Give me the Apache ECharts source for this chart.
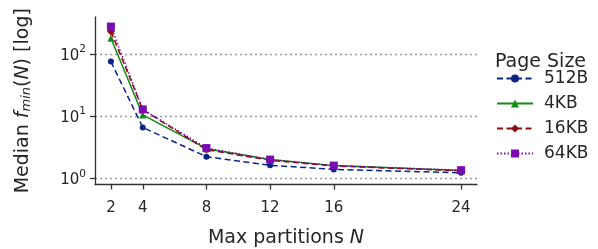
<!DOCTYPE html>
<html>
<head>
<meta charset="utf-8">
<script src="https://cdn.jsdelivr.net/npm/echarts@6/dist/echarts.min.js"></script>
<style>
  html, body { margin: 0; padding: 0; background: #fff; }
  #chart { width: 598px; height: 249px; }
</style>
</head>
<body>
<div id="chart"></div>
<script>
// values (log y axis)
const partitions = [2, 4, 8, 12, 16, 24]
const pageSizes = ['512B', '4KB', '16KB', '64KB']
const val512B = [76, 6.6, 2.23, 1.62, 1.39, 1.23]
const val4KB = [181, 10.5, 3.0, 2.0, 1.6, 1.34]
const val16KB = [232, 12.8, 2.9, 1.95, 1.58, 1.32]
const val64KB = [279, 12.9, 3.07, 2.0, 1.6, 1.35]
const yTicks = [1, 10, 100]

const colors = ['#0a2485', '#138a13', '#8e0c0c', '#7a0ab2']
const symbols = ['circle', 'triangle', 'diamond', 'rect']
const symbolSizes = [6, 7, 8, 8]
const dashes = [[6, 3.5], 'solid', [6, 3.5], [1.5, 2]]
const allValues = [val512B, val4KB, val16KB, val64KB]

const txt = '#262626'
const font = 'DejaVu Sans'

var myChart = echarts.init(document.getElementById('chart'), null, { renderer: 'canvas' })

const series = pageSizes.map((name, i) => ({
  name: name,
  type: 'line',
  data: partitions.map((x, j) => [x, allValues[i][j]]),
  symbol: symbols[i],
  symbolSize: symbolSizes[i],
  showSymbol: true,
  z: 2 + i,
  lineStyle: { color: colors[i], width: 1.5, type: dashes[i] },
  itemStyle: { color: colors[i] },
  emphasis: { disabled: true },
}))

var option = {
  animation: false,
  textStyle: { fontFamily: font },
  title: {
    text: 'Page Size',
    left: 495,
    top: 53,
    padding: 0,
    textStyle: { fontFamily: font, fontSize: 19, fontWeight: 'normal', color: txt },
  },
  legend: {
    orient: 'vertical',
    left: 496,
    top: 70,
    padding: 0,
    itemWidth: 36,
    itemHeight: 10,
    itemGap: 8,
    data: pageSizes,
    textStyle: { fontFamily: font, fontSize: 17, color: txt, lineHeight: 17, padding: [0, 0, 0, 6] },
  },
  grid: {
    left: 95,
    right: 121,
    top: 17,
    bottom: 64.5,
    containLabel: false,
    outerBoundsMode: 'none',
  },
  xAxis: {
    type: 'value',
    min: 1,
    max: 25,
    name: '{n|Max partitions }{i|N}',
    nameLocation: 'middle',
    nameGap: 44,
    nameTextStyle: {
      rich: {
        n: { fontFamily: font, fontSize: 19, color: txt },
        i: { fontFamily: font, fontSize: 19, color: txt, fontStyle: 'italic' },
      },
    },
    axisLine: { onZero: false, lineStyle: { color: '#333', width: 1.3 } },
    axisTick: { customValues: partitions, length: 5, lineStyle: { color: '#333', width: 1.3 } },
    axisLabel: {
      customValues: partitions,
      margin: 16,
      fontFamily: font,
      fontSize: 15,
      color: txt,
    },
    splitLine: { show: false },
  },
  yAxis: {
    type: 'log',
    logBase: 10,
    min: 0.794,
    max: 398,
    name: '{n|Median }{i|f}{s|min}{n|(}{i|N}{n|) [log]}',
    nameLocation: 'middle',
    nameRotate: 90,
    nameGap: 62,
    nameTextStyle: {
      rich: {
        n: { fontFamily: font, fontSize: 19, color: txt },
        i: { fontFamily: font, fontSize: 19, color: txt, fontStyle: 'italic' },
        s: { fontFamily: font, fontSize: 13, color: txt, fontStyle: 'italic', verticalAlign: 'bottom', lineHeight: 14, padding: [6, 0, 0, 0] },
      },
    },
    axisLine: { show: true, lineStyle: { color: '#333', width: 1.3 } },
    axisTick: { customValues: yTicks, length: 5, lineStyle: { color: '#333', width: 1.3 } },
    minorTick: { show: false },
    axisLabel: {
      customValues: yTicks,
      margin: 9,
      formatter: function (v) {
        return '{b|10}{s|' + Math.round(Math.log10(v)) + '}'
      },
      rich: {
        b: { fontFamily: font, fontSize: 15, color: txt, lineHeight: 20, padding: [4, 0, 0, 0] },
        s: { fontFamily: font, fontSize: 10.5, color: txt, verticalAlign: 'top', lineHeight: 12 },
      },
    },
    splitLine: {
      show: true,
      lineStyle: { color: '#999', width: 1.3, type: [2, 3] },
    },
  },
  series: series,
}
myChart.setOption(option)
</script>
</body>
</html>
